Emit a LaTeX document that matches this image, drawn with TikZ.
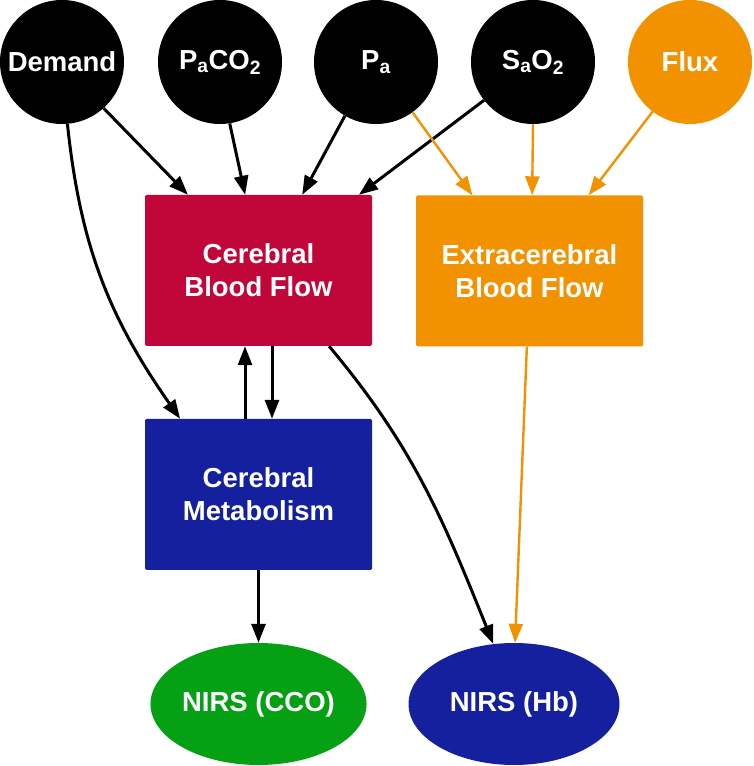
\documentclass[tikz,border=0pt]{standalone}
\usepackage{fontspec}
\setmainfont{Liberation Sans}
\usetikzlibrary{arrows.meta,shapes.geometric}
\definecolor{cbfred}{RGB}{193,6,58}
\definecolor{ecorange}{RGB}{243,146,0}
\definecolor{metblue}{RGB}{20,32,158}
\definecolor{ccogreen}{RGB}{5,160,20}
\begin{document}
\begin{tikzpicture}[x=1pt,y=1pt,
    font=\bfseries\fontsize{27.5}{33}\selectfont,
    var/.style={circle,fill=black,text=white,minimum size=124pt,inner sep=0pt},
    proc/.style={rectangle,rounded corners=1.5pt,text=white,minimum width=227pt,minimum height=151pt,align=center,inner sep=0pt},
    meas/.style={ellipse,text=white,minimum width=211pt,minimum height=122pt,inner sep=0pt},
    link/.style={line width=3pt,-{Triangle[length=19pt,width=14pt]}},
    olink/.style={link,line width=2.4pt,draw=ecorange,-{Triangle[length=19pt,width=14pt,fill=ecorange]}}]
  \useasboundingbox (0,0) rectangle (753,766);
  \draw
    (62,704) node[var] (dem){Demand}
    (220,704) node[var] (paco2){P\textsubscript{a}CO\textsubscript{2}}
    (376,704) node[var] (pa){P\textsubscript{a}}
    (533,704) node[var] (sao2){S\textsubscript{a}O\textsubscript{2}}
    (690,704) node[var,fill=ecorange] (flux){Flux}
    (258.5,495.5) node[proc,fill=cbfred] (cbf){Cerebral\\Blood Flow}
    (529.5,495) node[proc,fill=ecorange] (ecbf){Extracerebral\\Blood Flow}
    (258.5,271.5) node[proc,fill=metblue] (met){Cerebral\\Metabolism}
    (258.5,62) node[meas,fill=ccogreen] (cco){NIRS (CCO)}
    (514,62) node[meas,fill=metblue] (hb){NIRS (Hb)};
  \begin{scope}[link]
    \draw (dem.-48) to (cbf.133);
    \draw (paco2.-81) to (cbf.100);
    \draw (pa.-120) to (cbf.60);
    \draw (sao2.-142) to (cbf.37);
    \draw (dem.-85) to[out=-84,in=125] (met.136);
    \draw ([xshift=13.5pt]cbf.south) to ([xshift=13.5pt]met.north);
    \draw ([xshift=-13.5pt]met.north) to ([xshift=-13.5pt]cbf.south);
    \draw (cbf.-47) to[out=-50,in=112] (hb.109);
    \draw (met.south) to (cco.north);
  \end{scope}
  \begin{scope}[olink]
    \draw (pa.-54) to (ecbf.127);
    \draw (sao2.south) to (ecbf.88);
    \draw (flux.-127) to (ecbf.52);
    \draw (ecbf.-92) to (hb.89);
  \end{scope}
\end{tikzpicture}
\end{document}
